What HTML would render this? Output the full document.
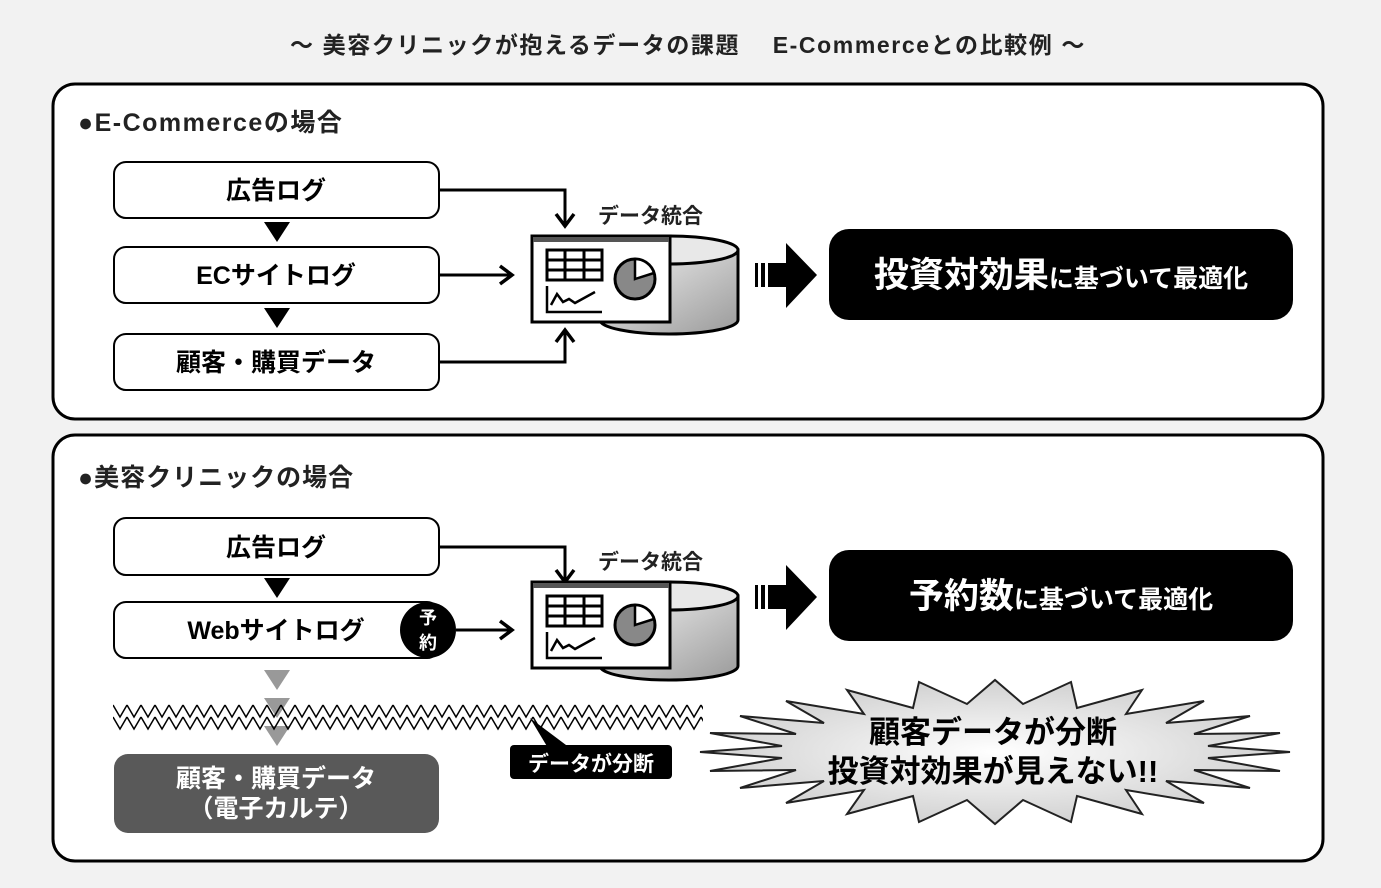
<!DOCTYPE html>
<html><head><meta charset="utf-8"><style>
html,body{margin:0;padding:0;background:#f2f2f2;}
svg{display:block;font-family:"Liberation Sans","Noto Sans CJK JP",sans-serif;font-weight:bold;}
</style></head><body>
<svg width="1381" height="888" viewBox="0 0 1381 888" xmlns="http://www.w3.org/2000/svg">
<defs>
<linearGradient id="cyl" x1="0" y1="0" x2="1" y2="1"><stop offset="0" stop-color="#f4f4f4"/><stop offset="1" stop-color="#9a9a9a"/></linearGradient>
<radialGradient id="star" cx="0.5" cy="0.5" r="0.6"><stop offset="0" stop-color="#ffffff"/><stop offset="1" stop-color="#c8c8c8"/></radialGradient>
<pattern id="zz" x="113" y="703" width="14" height="30" patternUnits="userSpaceOnUse">
<path d="M0,2 L7,14 L14,2 M0,14 L7,26 L14,14" fill="none" stroke="#000" stroke-width="1.5"/>
</pattern>
<g id="icon">
<path d="M600,250 L600,320 A69,14 0 0 0 738,320 L738,250 Z" fill="url(#cyl)" stroke="#000" stroke-width="3"/>
<ellipse cx="669" cy="250" rx="69" ry="14" fill="#e8e8e8" stroke="#000" stroke-width="3"/>
<rect x="532" y="236" width="138" height="86" fill="#fff" stroke="#000" stroke-width="3"/>
<rect x="533" y="237" width="136" height="5" fill="#555"/>
<rect x="547" y="250" width="55" height="30" fill="#fff" stroke="#000" stroke-width="3"/>
<path d="M547,260H602M547,270H602M565,250V280M584,250V280" stroke="#000" stroke-width="3"/>
<circle cx="635" cy="279" r="20" fill="#888" stroke="#000" stroke-width="3"/>
<path d="M635,279V259A20,20 0 0 1 654,273Z" fill="#fff" stroke="#000" stroke-width="2.5"/>
<path d="M547,286V312H602" fill="none" stroke="#000" stroke-width="2.5"/>
<path d="M551,305L557,294L563,302L569,299L575,303L595,292" fill="none" stroke="#000" stroke-width="2.5"/>
</g>
<g id="bigarrow">
<rect x="755" y="263" width="3" height="24" fill="#000"/>
<rect x="761" y="263" width="4" height="24" fill="#000"/>
<rect x="768" y="263" width="18" height="24" fill="#000"/>
<path d="M786,243 L817,275 L786,308Z" fill="#000"/>
</g>
</defs>

<text x="688" y="53" text-anchor="middle" font-size="23" fill="#222" letter-spacing="1.6">～ 美容クリニックが抱えるデータの課題　 E-Commerceとの比較例 ～</text>

<!-- Panel 1 -->
<rect x="53" y="84" width="1270" height="335" rx="22" fill="#fff" stroke="#000" stroke-width="3"/>
<text x="78" y="131" font-size="25" fill="#222" letter-spacing="1.5">●E-Commerceの場合</text>
<rect x="114" y="162" width="325" height="56" rx="12" fill="#fff" stroke="#000" stroke-width="2"/>
<text x="276" y="199" text-anchor="middle" font-size="25">広告ログ</text>
<rect x="114" y="247" width="325" height="56" rx="12" fill="#fff" stroke="#000" stroke-width="2"/>
<text x="276" y="284" text-anchor="middle" font-size="25">ECサイトログ</text>
<rect x="114" y="334" width="325" height="56" rx="12" fill="#fff" stroke="#000" stroke-width="2"/>
<text x="276" y="371" text-anchor="middle" font-size="25">顧客・購買データ</text>
<path d="M264,222H290L277,242Z M264,308H290L277,328Z" fill="#000"/>
<path d="M440,190H565V224 M440,275H510 M440,362H565V332" fill="none" stroke="#000" stroke-width="3"/>
<path d="M556,214L565,226L574,214 M500,266L512,275L500,284 M556,342L565,330L574,342" fill="none" stroke="#000" stroke-width="3.5"/>
<text x="598" y="223" font-size="21" fill="#222">データ統合</text>
<use href="#icon"/>
<use href="#bigarrow"/>
<rect x="829" y="229" width="464" height="91" rx="20" fill="#000"/>
<text x="1061" y="287" text-anchor="middle" fill="#fff"><tspan font-size="35">投資対効果</tspan><tspan font-size="25">に基づいて最適化</tspan></text>

<!-- Panel 2 -->
<rect x="53" y="435" width="1270" height="426" rx="22" fill="#fff" stroke="#000" stroke-width="3"/>
<text x="78" y="486" font-size="25" fill="#222" letter-spacing="1">●美容クリニックの場合</text>
<rect x="114" y="518" width="325" height="57" rx="12" fill="#fff" stroke="#000" stroke-width="2"/>
<text x="276" y="556" text-anchor="middle" font-size="25">広告ログ</text>
<rect x="114" y="602" width="325" height="56" rx="12" fill="#fff" stroke="#000" stroke-width="2"/>
<text x="276" y="639" text-anchor="middle" font-size="25">Webサイトログ</text>
<path d="M264,578H290L277,598Z" fill="#000"/>
<circle cx="428" cy="630" r="28" fill="#000"/>
<text x="428" y="624" text-anchor="middle" font-size="18" fill="#fff">予</text>
<text x="428" y="649" text-anchor="middle" font-size="18" fill="#fff">約</text>
<path d="M456,630H510 M440,547H565V580" fill="none" stroke="#000" stroke-width="3"/>
<path d="M556,570L565,582L574,570 M500,621L512,630L500,639" fill="none" stroke="#000" stroke-width="3.5"/>
<text x="598" y="569" font-size="21" fill="#222">データ統合</text>
<use href="#icon" transform="translate(0,346)"/>
<use href="#bigarrow" transform="translate(0,322)"/>
<rect x="829" y="550" width="464" height="91" rx="20" fill="#000"/>
<text x="1061" y="608" text-anchor="middle" fill="#fff"><tspan font-size="35">予約数</tspan><tspan font-size="25">に基づいて最適化</tspan></text>

<path d="M264,670H290L277,690Z M264,698H290L277,718Z M264,726H290L277,746Z" fill="#999"/>
<rect x="113" y="703" width="590" height="30" fill="url(#zz)"/>
<path d="M530,718 L548,748 L570,748Z" fill="#000"/>
<rect x="510" y="745" width="162" height="34" rx="4" fill="#000"/>
<text x="591" y="771" text-anchor="middle" font-size="21" fill="#fff">データが分断</text>
<rect x="114" y="754" width="325" height="79" rx="14" fill="#595959"/>
<text x="276" y="787" text-anchor="middle" font-size="25" fill="#fff">顧客・購買データ</text>
<text x="276" y="817" text-anchor="middle" font-size="25" fill="#fff">（電子カルテ）</text>

<polygon fill="url(#star)" stroke="#222" stroke-width="2" points="1290,752 1208,758 1280,771 1194,770 1250,788 1166,781 1204,803 1126,790 1142,814 1077,796 1071,822 1023,800 995,824 967,800 919,822 913,796 847,814 864,790 786,803 824,781 740,788 796,770 710,771 782,758 700,752 782,746 710,733 796,734 740,716 824,723 786,701 864,714 847,690 913,708 919,682 967,704 995,680 1023,704 1071,682 1077,708 1142,690 1126,714 1204,701 1166,723 1250,716 1194,734 1280,733 1208,746"/>
<text x="993" y="743" text-anchor="middle" font-size="31">顧客データが分断</text>
<text x="993" y="782" text-anchor="middle" font-size="31">投資対効果が見えない!!</text>
</svg>
</body></html>
